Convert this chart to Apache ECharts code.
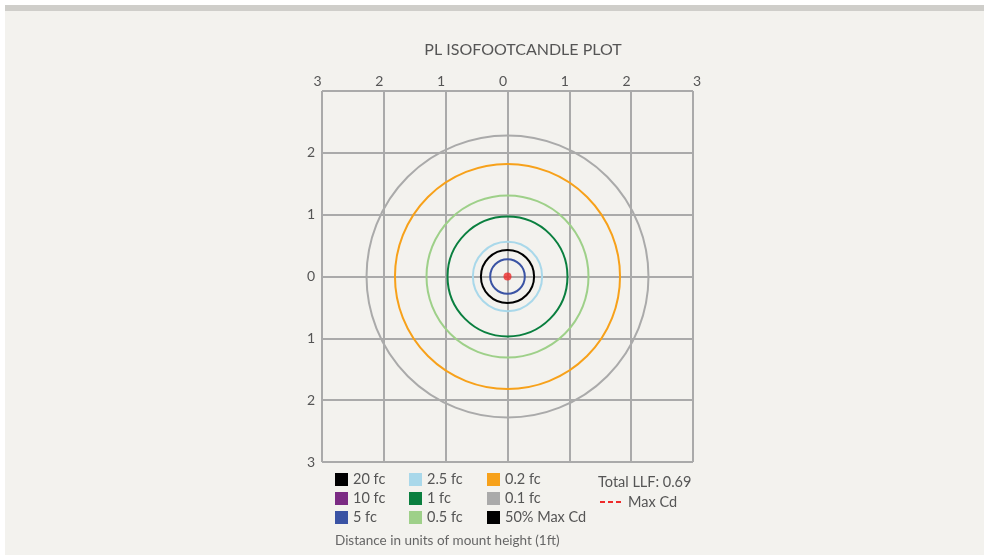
<!DOCTYPE html>
<html>
<head>
<meta charset="utf-8">
<script src="https://cdn.jsdelivr.net/npm/echarts@6/dist/echarts.min.js"></script>
<style>
  html, body { margin: 0; padding: 0; background: #fff; }
  #panel { position: absolute; left: 5px; top: 5px; width: 979px; height: 550px; background: #f3f2ee; border-top: 6px solid #cfceca; box-sizing: border-box; }
  #chart { position: absolute; left: 0; top: 0; width: 984px; height: 555px; }
</style>
</head>
<body>
<div id="panel"></div>
<div id="chart"></div>
<script>
// isofootcandle levels, radius in units of mount height (null = no contour drawn)
var levels = ['20 fc', '10 fc', '5 fc', '2.5 fc', '1 fc', '0.5 fc', '0.2 fc', '0.1 fc', '50% Max Cd']
var radii = [null, null, 0.28, 0.56, 0.97, 1.31, 1.82, 2.28, 0.43]
var levelColors = ['#000000', '#7b2b83', '#3a53a4', '#a9d8ea', '#0a7f3f', '#9ed089', '#f7a11a', '#aaaaaa', '#000000']
var maxCd = [[0, 0]]
var axisTicks = [-3, -2, -1, 0, 1, 2, 3]
var llf = 0.69

var chart = echarts.init(document.getElementById('chart'))
var font = 'Lato, "Open Sans", sans-serif'
var gridColor = '#aaaaaa'

var series = levels.map(function (name, i) {
    return {
        name: name,
        type: 'custom',
        coordinateSystem: 'cartesian2d',
        itemStyle: { color: levelColors[i] },
        encode: { x: 0, y: 1 },
        data: radii[i] == null ? [] : [[0, 0, radii[i]]],
        z: 3,
        renderItem: function (params, api) {
            var c = api.coord([api.value(0), api.value(1)])
            var r = api.size([api.value(2), 0])[0]
            return {
                type: 'circle',
                shape: { cx: c[0], cy: c[1], r: r },
                style: { fill: 'none', stroke: levelColors[i], lineWidth: 2 }
            }
        }
    }
})
series.push({
    name: 'Max Cd',
    type: 'scatter',
    data: maxCd,
    symbolSize: 8,
    itemStyle: { color: '#ee2a2a' },
    z: 5
})

function legendCol(left, names) {
    return {
        orient: 'vertical',
        left: left,
        top: 467,
        padding: 5,
        itemWidth: 13,
        itemHeight: 13,
        itemGap: 4,
        icon: 'rect',
        selectedMode: false,
        data: names,
        textStyle: { fontFamily: font, fontSize: 14.5, color: '#555' }
    }
}

var axisCommon = {
    type: 'value',
    min: axisTicks[0],
    max: axisTicks[axisTicks.length - 1],
    interval: 1,
    axisLine: { show: true, lineStyle: { color: gridColor, width: 2 } },
    axisTick: { show: false },
    splitLine: { show: true, lineStyle: { color: gridColor, width: 2 } },
    axisLabel: {
        formatter: function (v) { return Math.abs(v) },
        color: '#555',
        fontFamily: font,
        fontSize: 14,
        margin: 7
    }
}

var option = {
    animation: false,
    grid: { left: 322, top: 91, width: 371, height: 371 },
    xAxis: echarts.util.merge({ position: 'top', axisLabel: { padding: [0, 9, 0, 0], margin: 3, alignMaxLabel: 'left' } }, axisCommon, false),
    yAxis: echarts.util.merge({ axisLabel: { showMaxLabel: false } }, axisCommon, false),
    legend: [
        legendCol(330, levels.slice(0, 3)),
        legendCol(404, levels.slice(3, 6)),
        legendCol(482, levels.slice(6, 9))
    ],
    graphic: [
        {
            type: 'text', x: 523, y: 50,
            style: { text: 'PL ISOFOOTCANDLE PLOT', align: 'center', verticalAlign: 'middle', fill: '#555', font: '16px ' + font }
        },
        {
            type: 'text', x: 598, y: 482,
            style: { text: 'Total LLF: ' + llf, verticalAlign: 'middle', fill: '#555', font: '14.5px ' + font }
        },
        {
            type: 'line',
            shape: { x1: 600, y1: 502, x2: 623, y2: 502 },
            style: { stroke: '#ee2a2a', lineWidth: 2, lineDash: [5, 3] }
        },
        {
            type: 'text', x: 628, y: 502,
            style: { text: 'Max Cd', verticalAlign: 'middle', fill: '#555', font: '14.5px ' + font }
        },
        {
            type: 'text', x: 335, y: 541,
            style: { text: 'Distance in units of mount height (1ft)', verticalAlign: 'middle', fill: '#666', font: '13.5px ' + font }
        }
    ],
    series: series
}

chart.setOption(option)
</script>
</body>
</html>
